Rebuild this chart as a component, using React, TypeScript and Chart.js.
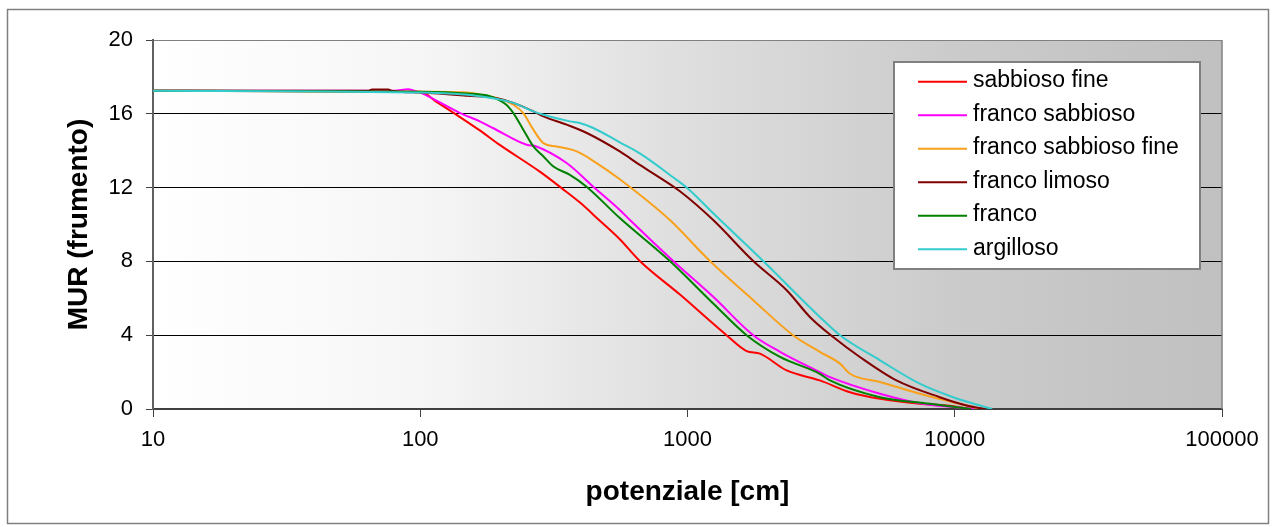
import React, { useEffect, useRef } from 'react';
import { Chart, registerables } from 'chart.js';

Chart.register(...registerables);

const FONT = "'Liberation Sans', Arial, sans-serif";

const seriesLabels = ['sabbioso fine', 'franco sabbioso', 'franco sabbioso fine', 'franco limoso', 'franco', 'argilloso'];
const seriesColors = ['#FF0000', '#FF00FF', '#F9A11B', '#800000', '#008000', '#33CCCC'];

const sabbiosoFineX = [10, 100, 115, 135, 167, 199, 281, 338, 395, 470, 558, 663, 937, 1400, 1664, 1866, 2350, 3126, 4055, 5250, 7400, 9310, 11500];
const sabbiosoFineY = [17.25, 17.2, 16.65, 16.0, 15.1, 14.3, 12.85, 11.97, 11.2, 10.2, 9.2, 8.02, 6.2, 4.0, 3.14, 3.0, 2.09, 1.55, 0.91, 0.55, 0.28, 0.19, 0];

const francoSabbiosoX = [10, 80, 90, 95, 100, 141, 167, 187, 250, 272, 353, 444, 558, 609, 884, 1248, 1762, 2219, 3126, 3413, 5250, 7620, 12000];
const francoSabbiosoY = [17.25, 17.25, 17.33, 17.25, 17.15, 16.04, 15.59, 15.23, 14.32, 14.23, 13.33, 12.05, 10.79, 10.24, 8.02, 6.08, 4.0, 3.1, 2.0, 1.73, 0.83, 0.28, 0];

const francoSabbiosoFineX = [10, 100, 150, 167, 193, 223, 243, 265, 289, 324, 385, 457, 558, 859, 1213, 1762, 2483, 3126, 3720, 4055, 5250, 7400, 9860, 12500];
const francoSabbiosoFineY = [17.25, 17.2, 17.16, 17.04, 16.86, 16.49, 16.04, 15.14, 14.41, 14.23, 13.96, 13.33, 12.45, 10.24, 8.02, 5.9, 4.0, 3.1, 2.46, 1.91, 1.46, 0.83, 0.37, 0];

const francoLimosoX = [10, 64, 66, 76, 78, 100, 150, 193, 223, 265, 289, 353, 420, 558, 663, 811, 937, 1248, 1762, 2350, 2870, 3508, 4415, 6050, 8790, 11070, 13000];
const francoLimosoY = [17.25, 17.25, 17.32, 17.32, 17.25, 17.15, 16.98, 16.85, 16.59, 16.13, 15.86, 15.41, 14.96, 13.96, 13.23, 12.42, 11.8, 10.24, 8.02, 6.44, 4.99, 3.9, 2.82, 1.55, 0.64, 0.19, 0];

const francoX = [10, 100, 150, 182, 210, 223, 243, 265, 289, 315, 363, 419, 558, 859, 1248, 1664, 2219, 3126, 3413, 5250, 8070, 11500];
const francoY = [17.25, 17.2, 17.1, 16.95, 16.49, 16.04, 15.14, 14.23, 13.69, 13.14, 12.69, 12.05, 10.35, 8.02, 5.72, 4.0, 2.82, 1.91, 1.55, 0.64, 0.28, 0];

const argillosoX = [10, 100, 167, 223, 265, 289, 363, 395, 444, 558, 663, 910, 1000, 1248, 1920, 3126, 3720, 5250, 7400, 9860, 13800];
const argillosoY = [17.25, 17.15, 16.95, 16.59, 16.13, 15.95, 15.59, 15.5, 15.23, 14.45, 13.85, 12.42, 11.97, 10.61, 8.02, 4.99, 4.0, 2.64, 1.37, 0.64, 0];

const seriesX = [sabbiosoFineX, francoSabbiosoX, francoSabbiosoFineX, francoLimosoX, francoX, argillosoX];
const seriesY = [sabbiosoFineY, francoSabbiosoY, francoSabbiosoFineY, francoLimosoY, francoY, argillosoY];

const xTickValues = [10, 100, 1000, 10000, 100000];
const yMin = 0;
const yMax = 20;
const yStep = 4;
const xTitle = 'potenziale [cm]';
const yTitle = 'MUR (frumento)';

const decorPlugin = {
  id: 'decor',
  beforeDraw(chart: any) {
    const { ctx, chartArea: a, width, height } = chart;
    ctx.save();
    ctx.fillStyle = '#ffffff';
    ctx.fillRect(0, 0, width, height);
    ctx.strokeStyle = '#808080';
    ctx.lineWidth = 1.5;
    ctx.strokeRect(7.5, 9.5, 1261, 514);
    const g = ctx.createLinearGradient(a.left, 0, a.right, 0);
    g.addColorStop(0, '#ffffff');
    g.addColorStop(0.25, '#f6f6f6');
    g.addColorStop(0.5, '#dedede');
    g.addColorStop(0.75, '#cbcbcb');
    g.addColorStop(1, '#c0c0c0');
    ctx.fillStyle = g;
    ctx.fillRect(a.left, a.top, a.right - a.left, a.bottom - a.top);
    ctx.restore();
  },
  beforeDatasetsDraw(chart: any) {
    const { ctx, chartArea: a } = chart;
    ctx.save();
    ctx.strokeStyle = '#808080';
    ctx.lineWidth = 1.5;
    ctx.beginPath();
    ctx.moveTo(a.right, a.top);
    ctx.lineTo(a.right, a.bottom);
    ctx.stroke();
    ctx.restore();
  },
  afterDraw(chart: any) {
    const { ctx } = chart;
    ctx.save();
    ctx.fillStyle = '#ffffff';
    ctx.fillRect(894, 62, 306, 207);
    ctx.strokeStyle = '#808080';
    ctx.lineWidth = 2;
    ctx.strokeRect(894, 62, 306, 207);
    ctx.font = `23px ${FONT}`;
    ctx.textBaseline = 'alphabetic';
    ctx.textAlign = 'left';
    chart.data.datasets.forEach((ds: any, i: number) => {
      const y = 81.7 + i * 33.5;
      ctx.strokeStyle = ds.borderColor;
      ctx.lineWidth = 2;
      ctx.beginPath();
      ctx.moveTo(918, y);
      ctx.lineTo(967, y);
      ctx.stroke();
      ctx.fillStyle = '#000000';
      ctx.fillText(ds.label, 973, y + 5.5);
    });
    ctx.restore();
  },
};

export default function App() {
  const ref = useRef<HTMLCanvasElement>(null);
  useEffect(() => {
    document.body.style.margin = '0';
    const datasets = seriesLabels.map((label, i) => ({
      label,
      data: seriesX[i].map((x, j) => ({ x, y: seriesY[i][j] })),
      borderColor: seriesColors[i],
      backgroundColor: seriesColors[i],
      borderWidth: 2,
      pointRadius: 0,
      cubicInterpolationMode: 'monotone',
      fill: false,
      order: seriesLabels.length - i,
    }));
    const chart = new Chart(ref.current as HTMLCanvasElement, {
      type: 'line',
      data: { datasets },
      plugins: [decorPlugin],
      options: {
        animation: false,
        responsive: false,
        layout: { padding: { left: 0, top: 40, right: 51, bottom: 0 } },
        plugins: { legend: { display: false }, tooltip: { enabled: false } },
        scales: {
          x: {
            type: 'logarithmic',
            min: 10,
            max: 100000,
            afterBuildTicks: (scale: any) => {
              scale.ticks = xTickValues.map((v) => ({ value: v }));
            },
            afterFit: (scale: any) => {
              scale.height = 118;
            },
            ticks: {
              callback: (v: any) => String(v),
              color: '#000',
              font: { family: FONT, size: 22 },
              padding: 10,
              maxRotation: 0,
              autoSkip: false,
            },
            grid: { drawOnChartArea: false, drawTicks: true, tickLength: 8, tickColor: '#404040', color: '#404040' },
            border: { color: '#404040', width: 2 },
            title: {
              display: true,
              text: xTitle,
              color: '#000',
              font: { family: FONT, size: 28, weight: 'bold' },
              padding: { top: 0, bottom: 18 },
            },
          },
          y: {
            min: yMin,
            max: yMax,
            afterFit: (scale: any) => {
              scale.width = 153;
            },
            ticks: {
              stepSize: yStep,
              color: '#000',
              font: { family: FONT, size: 22 },
              padding: 13,
            },
            grid: {
              color: (c: any) => (c.tick && c.tick.value === yMax ? '#808080' : c.tick && c.tick.value === yMin ? 'rgba(0,0,0,0)' : '#000000'),
              lineWidth: 1,
              tickLength: 7,
              tickColor: '#404040',
            },
            border: { color: '#606060', width: 2 },
            title: {
              display: true,
              text: yTitle,
              color: '#000',
              font: { family: FONT, size: 28, weight: 'bold' },
              padding: { top: 62, bottom: 0 },
            },
          },
        },
      },
    } as any);
    return () => chart.destroy();
  }, []);
  return (
    <div style={{ position: 'absolute', left: 0, top: 0, width: 1273, height: 527 }}>
      <canvas ref={ref} width={1273} height={527} />
    </div>
  );
}
